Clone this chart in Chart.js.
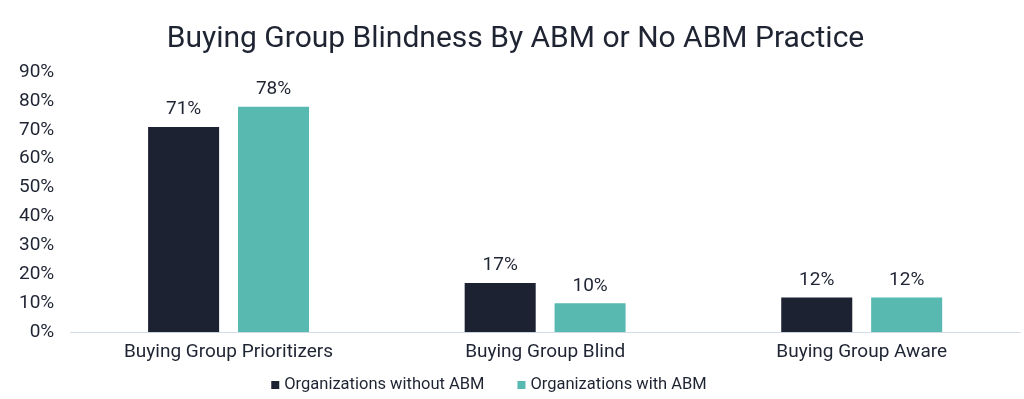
<!DOCTYPE html>
<html>
<head>
<meta charset="utf-8">
<script src="https://cdn.jsdelivr.net/npm/chart.js@4/dist/chart.umd.min.js"></script>
<style>
  html, body { margin: 0; padding: 0; background: #fff; }
  #wrap { width: 1024px; height: 399px; }
</style>
</head>
<body>
<div id="wrap"><canvas id="chart" width="1024" height="399"></canvas></div>
<script>
var categories = ['Buying Group Prioritizers', 'Buying Group Blind', 'Buying Group Aware'];
var withoutAbm = [71, 17, 12];
var withAbm = [78, 10, 12];
var yTicks = [0, 10, 20, 30, 40, 50, 60, 70, 80, 90];

var textColor = '#1f2433';

// draws the value above each bar
var barLabels = {
  id: 'barLabels',
  afterDatasetsDraw: function (chart) {
    var ctx = chart.ctx;
    ctx.save();
    ctx.font = '19px Roboto';
    ctx.fillStyle = textColor;
    ctx.textAlign = 'center';
    ctx.textBaseline = 'bottom';
    chart.data.datasets.forEach(function (ds, i) {
      chart.getDatasetMeta(i).data.forEach(function (bar, j) {
        ctx.fillText(ds.data[j] + '%', bar.x, bar.y - 8);
      });
    });
    ctx.restore();
  }
};

// small square legend under the axis labels
var bottomLegend = {
  id: 'bottomLegend',
  afterDraw: function (chart) {
    var ctx = chart.ctx;
    var box = 8, gap = 5, itemGap = 33;
    ctx.save();
    ctx.font = '16.5px Roboto';
    ctx.textBaseline = 'middle';
    ctx.textAlign = 'left';
    var sets = chart.data.datasets;
    var total = 0;
    sets.forEach(function (ds, i) {
      total += box + gap + ctx.measureText(ds.label).width;
      if (i < sets.length - 1) total += itemGap;
    });
    var x = chart.width / 2 - 23 - total / 2;
    var y = chart.height - 14;
    sets.forEach(function (ds) {
      ctx.fillStyle = ds.backgroundColor;
      ctx.fillRect(x, y - box / 2, box, box);
      x += box + gap;
      ctx.fillStyle = textColor;
      ctx.fillText(ds.label, x, y);
      x += ctx.measureText(ds.label).width + itemGap;
    });
    ctx.restore();
  }
};

Chart.defaults.font.family = 'Roboto';
Chart.defaults.color = textColor;

var chart = new Chart(document.getElementById('chart'), {
  type: 'bar',
  data: {
    labels: categories,
    datasets: [{
      label: 'Organizations without ABM',
      data: withoutAbm,
      backgroundColor: '#1d2232'
    }, {
      label: 'Organizations with ABM',
      data: withAbm,
      backgroundColor: '#57b9b0'
    }]
  },
  options: {
    responsive: false,
    animation: false,
    categoryPercentage: 0.568,
    barPercentage: 0.79,
    layout: { padding: { left: 11, right: 4, top: 0, bottom: 34 } },
    plugins: {
      title: {
        display: true,
        text: 'Buying Group Blindness By ABM or No ABM Practice',
        font: { size: 30, weight: 'normal' },
        color: textColor,
        padding: { top: 21, bottom: 15 }
      },
      legend: { display: false },
      tooltip: { enabled: false }
    },
    scales: {
      x: {
        grid: { display: false },
        border: { color: '#d6dce6' },
        ticks: { font: { size: 19 }, color: textColor, padding: 1 }
      },
      y: {
        min: 0,
        max: 90,
        afterBuildTicks: function (axis) {
          axis.ticks = yTicks.map(function (v) { return { value: v }; });
        },
        grid: { display: false },
        border: { display: false },
        ticks: {
          font: { size: 19 },
          color: textColor,
          padding: 8,
          callback: function (v) { return v + '%'; }
        }
      }
    }
  },
  plugins: [barLabels, bottomLegend]
});
</script>
</body>
</html>
